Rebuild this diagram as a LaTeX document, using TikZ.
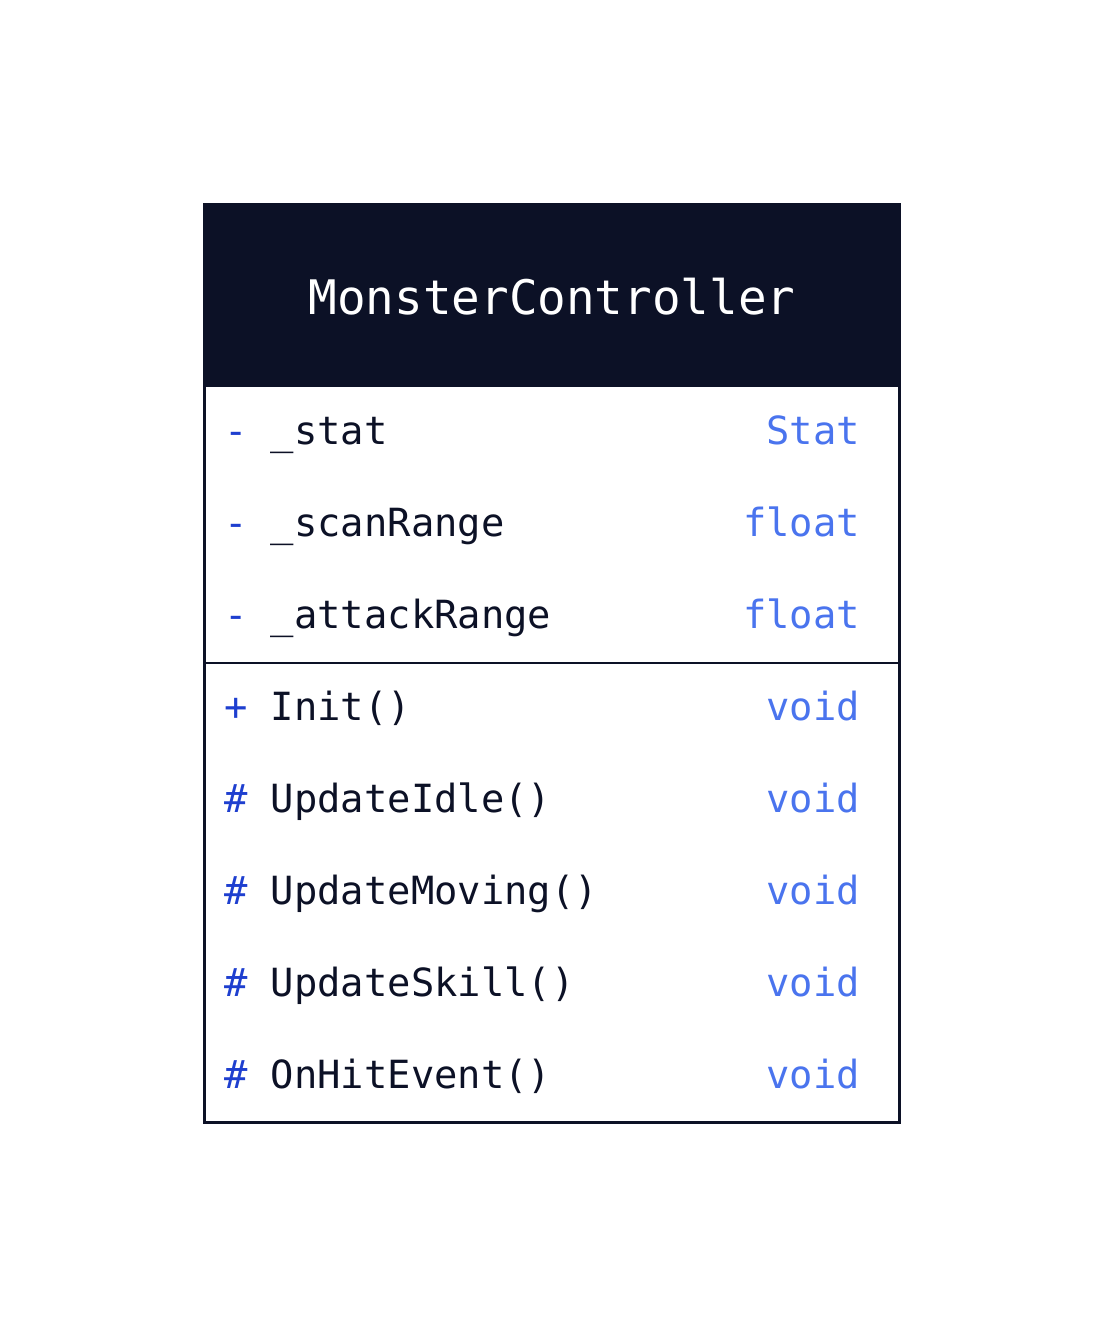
\documentclass[tikz,border=0pt]{standalone}
\usepackage{fontspec}
\setmonofont{DejaVu Sans Mono}
\definecolor{navy}{HTML}{0C1126}
\definecolor{vis}{HTML}{1E3FCF}
\definecolor{typ}{HTML}{4A74EE}
\tikzset{
  member/.style={anchor=base west, inner sep=0pt, font=\ttfamily\fontsize{38.8}{38.8}\selectfont, text=navy},
  mtype/.style={anchor=base east, inner sep=0pt, font=\ttfamily\fontsize{38.8}{38.8}\selectfont, text=typ},
  title/.style={anchor=base, inner sep=0pt, font=\ttfamily\fontsize{47.6}{47.6}\selectfont, text=white},
}
\begin{document}
\begin{tikzpicture}[x=1pt,y=-1pt]
\useasboundingbox (0,0) rectangle (1104,1328);
\fill[navy] (203,203) rectangle (901,387);
\draw[navy, line width=3pt] (204.5,204.5) rectangle (899.5,1122.5);
\draw[navy, line width=2pt] (204.5,663) -- (899.5,663);
\node[title] (t) at (552,314) {MonsterController};
\node[member] (a1) at (224,444) {{\color{vis}-} \_stat};
\node[mtype] (a1t) at (860,444) {Stat};
\node[member] (a2) at (224,536) {{\color{vis}-} \_scanRange};
\node[mtype] (a2t) at (860,536) {float};
\node[member] (a3) at (224,628) {{\color{vis}-} \_attackRange};
\node[mtype] (a3t) at (860,628) {float};
\node[member] (m1) at (224,720) {{\color{vis}+} Init()};
\node[mtype] (m1t) at (860,720) {void};
\node[member] (m2) at (224,812) {{\color{vis}\#} UpdateIdle()};
\node[mtype] (m2t) at (860,812) {void};
\node[member] (m3) at (224,904) {{\color{vis}\#} UpdateMoving()};
\node[mtype] (m3t) at (860,904) {void};
\node[member] (m4) at (224,996) {{\color{vis}\#} UpdateSkill()};
\node[mtype] (m4t) at (860,996) {void};
\node[member] (m5) at (224,1088) {{\color{vis}\#} OnHitEvent()};
\node[mtype] (m5t) at (860,1088) {void};
\end{tikzpicture}
\end{document}
